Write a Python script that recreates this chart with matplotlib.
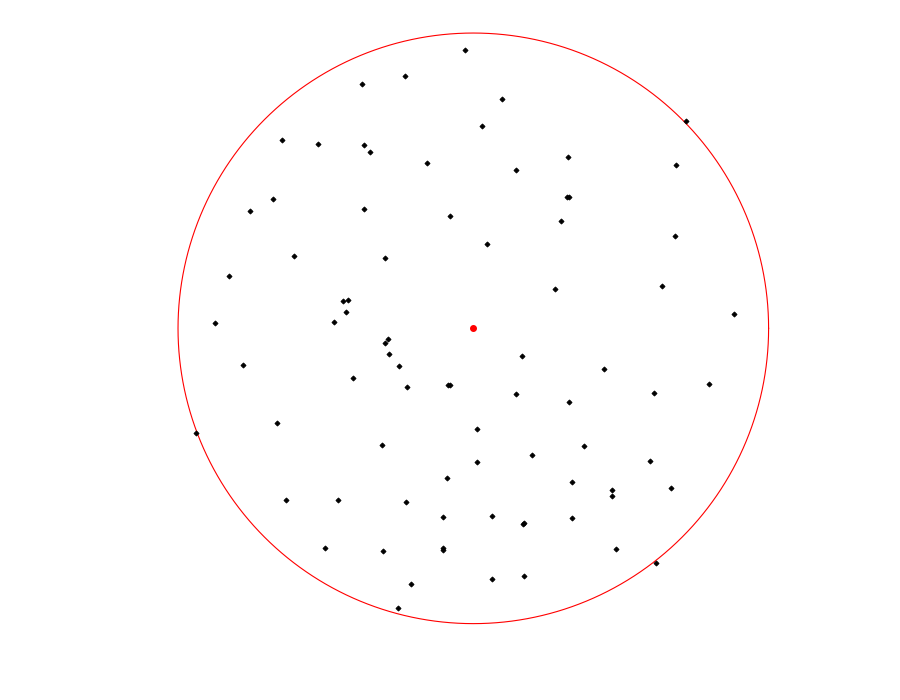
import matplotlib
matplotlib.use("Agg")
import matplotlib.pyplot as plt
import numpy as np

# unit circle, centre marked in red
center_x = [0.0]
center_y = [0.0]
radius = 1.0

pts_x = [-0.376, -0.647, -0.525, -0.369, -0.349, -0.677, -0.369, -0.755, -0.606, -0.826,
         -0.440, -0.423, -0.430, -0.471, -0.874, -0.027, -0.230, 0.098, 0.030, -0.156,
         0.146, 0.322, 0.318, 0.325, 0.298, -0.078, 0.047, -0.298, 0.278, 0.721,
         0.687, 0.684, 0.640, 0.884, -0.779, -0.406, -0.664, -0.938, -0.633, -0.457,
         -0.501, -0.288, -0.298, -0.284, -0.251, -0.224, -0.085, -0.078, 0.166, 0.146,
         0.325, 0.014, -0.308, 0.200, 0.014, -0.088, 0.335, -0.227, -0.102, 0.064,
         0.169, 0.173, 0.335, -0.305, -0.102, -0.102, -0.210, 0.064, 0.173, -0.254,
         0.444, 0.799, 0.613, 0.376, 0.599, 0.471, 0.471, 0.670, 0.484, 0.620]
pts_y = [0.826, 0.637, 0.623, 0.620, 0.596, 0.437, 0.403, 0.396, 0.244, 0.176,
         0.091, 0.095, 0.054, 0.020, 0.017, 0.941, 0.853, 0.775, 0.684, 0.559,
         0.535, 0.579, 0.444, 0.444, 0.362, 0.379, 0.284, 0.237, 0.132, 0.701,
         0.552, 0.312, 0.142, 0.047, -0.125, -0.169, -0.322, -0.356, -0.582, -0.582,
         -0.745, -0.037, -0.051, -0.088, -0.129, -0.200, -0.193, -0.193, -0.095, -0.224,
         -0.251, -0.342, -0.396, -0.430, -0.454, -0.508, -0.522, -0.589, -0.640, -0.637,
         -0.664, -0.660, -0.643, -0.755, -0.745, -0.752, -0.867, -0.850, -0.840, -0.948,
         -0.139, -0.190, -0.220, -0.400, -0.450, -0.549, -0.569, -0.542, -0.748, -0.796]

fig = plt.figure(figsize=(9, 7), dpi=100)
ax = fig.add_axes([0.1978, 0.1091, 0.6562, 0.8437])

t = np.linspace(0, 2 * np.pi, 721)
ax.plot(center_x[0] + radius * np.cos(t), center_y[0] + radius * np.sin(t),
        color="red", lw=0.8, clip_on=False)
ax.plot(pts_x, pts_y, "D", color="black", ms=2.6, mew=0.6, clip_on=False)
ax.plot(center_x, center_y, "o", color="red", ms=4, clip_on=False)

ax.set_xlim(-1, 1)
ax.set_ylim(-1, 1)
ax.axis("off")

fig.savefig("out.png", dpi=100)
